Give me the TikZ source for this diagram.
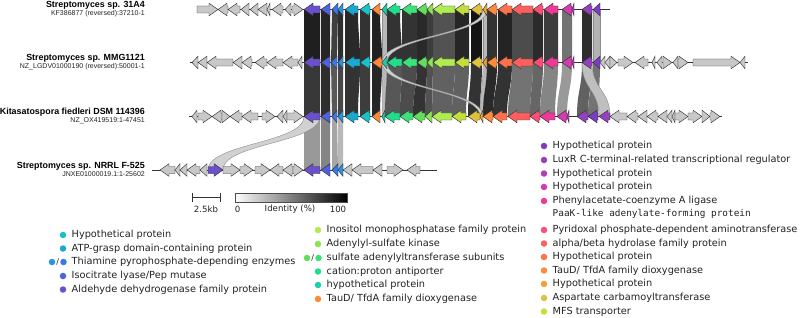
\documentclass[tikz,border=0pt]{standalone}
\usepackage{fontspec}
\setmainfont{DejaVu Sans}
\newfontfamily\ttlfont{Liberation Sans}
\newfontfamily\monofnt{DejaVu Sans Mono}
\definecolor{cA}{HTML}{6B4FCB}
\definecolor{cB}{HTML}{4E62DB}
\definecolor{cC}{HTML}{3C78E4}
\definecolor{cCb}{HTML}{2B93DF}
\definecolor{cD}{HTML}{1BA8D0}
\definecolor{cE}{HTML}{17C3C7}
\definecolor{cF}{HTML}{FF8A3A}
\definecolor{cG}{HTML}{19D0A8}
\definecolor{cH}{HTML}{22DC8C}
\definecolor{cI}{HTML}{3DE07A}
\definecolor{cJ}{HTML}{62DE5C}
\definecolor{cK}{HTML}{8DE452}
\definecolor{cL}{HTML}{AEEC52}
\definecolor{cM}{HTML}{C4DE3E}
\definecolor{cN}{HTML}{DEC23D}
\definecolor{cO}{HTML}{EFA13E}
\definecolor{cP}{HTML}{FF8A3D}
\definecolor{cQ}{HTML}{FF704C}
\definecolor{cR}{HTML}{FF5E5E}
\definecolor{cS}{HTML}{FF4D76}
\definecolor{cT}{HTML}{EC3B97}
\definecolor{cU}{HTML}{D33CB0}
\definecolor{cV}{HTML}{B23DB5}
\definecolor{cW}{HTML}{9440C0}
\definecolor{cX}{HTML}{7B3EC3}
\definecolor{ggray}{HTML}{C8C8C8}
\definecolor{txt}{HTML}{222222}
\tikzset{
  gene/.style={draw=black!80,line width=0.45pt,line join=miter},
  backbone/.style={draw=black!80,line width=0.6pt},
  lbl/.style={anchor=west,inner sep=0pt,text=txt,font=\fontsize{9.75}{11}\selectfont},
  ttl/.style={anchor=east,inner sep=0pt,text=black,font=\ttlfont\bfseries\fontsize{8.9}{10}\selectfont},
  sub/.style={anchor=east,inner sep=0pt,text=txt,font=\ttlfont\fontsize{7}{8}\selectfont},
  small/.style={inner sep=0pt,text=txt,font=\fontsize{8.6}{10}\selectfont},
  ldot/.style={circle,inner sep=0pt,minimum size=6.5pt},
  lightband/.style={draw=black!45,line width=0.4pt}
}
\newcommand\gl[4]{%
  \pgfmathsetmacro\hx{#1+min(9,#2-#1)}%
  \filldraw[gene,fill=#4] (#1,#3) -- (\hx,#3-6.3) -- (\hx,#3-3.5) -- (#2,#3-3.5) -- (#2,#3+3.5) -- (\hx,#3+3.5) -- (\hx,#3+6.3) -- cycle;}
\newcommand\gr[4]{%
  \pgfmathsetmacro\hx{#2-min(9,#2-#1)}%
  \filldraw[gene,fill=#4] (#2,#3) -- (\hx,#3-6.3) -- (\hx,#3-3.5) -- (#1,#3-3.5) -- (#1,#3+3.5) -- (\hx,#3+3.5) -- (\hx,#3+6.3) -- cycle;}
\newcommand\band[7][]{%
  \pgfmathsetmacro\ym{(#4+#7)/2}%
  \path[#1] (#2,#4) .. controls (#2,\ym) and (#5,\ym) .. (#5,#7) -- (#6,#7) .. controls (#6,\ym) and (#3,\ym) .. (#3,#4) -- cycle;}
\begin{document}
\begin{tikzpicture}[x=1pt,y=-1pt]
\useasboundingbox (0,0) rectangle (800,318);
\def\ya{9.5}\def\yb{62.5}\def\yc{116.5}\def\yd{170}
% ---------- bands row1 -> row2
\band[fill=black!88]{304}{320}{\ya}{304}{320}{\yb}
\band[fill=black!85]{321}{330}{\ya}{321}{330}{\yb}
\band[fill=black!75]{332}{338}{\ya}{331}{337}{\yb}
\band[fill=black!82]{338}{343}{\ya}{338}{343}{\yb}
\band[fill=black!84]{345}{358}{\ya}{345}{360}{\yb}
\band[fill=black!80]{360}{370}{\ya}{360}{370}{\yb}
\band[fill=black!87]{372}{380}{\ya}{372}{382}{\yb}
\band[fill=black!28,lightband]{382}{387}{\ya}{382}{387}{\yb}
\band[fill=black!80]{387}{400}{\ya}{387}{402}{\yb}
\band[fill=black!80]{402}{417}{\ya}{402}{417}{\yb}
\band[fill=black!84]{417}{427}{\ya}{417}{427}{\yb}
\band[fill=black!76]{427}{433}{\ya}{427}{433}{\yb}
\band[fill=black!68]{433}{455}{\ya}{433}{455}{\yb}
\band[fill=black!85]{455}{469}{\ya}{455}{469}{\yb}
\band[fill=black!92]{471}{482}{\ya}{471}{482}{\yb}
\band[fill=black!28,lightband]{483}{487}{\ya}{483}{487}{\yb}
\band[fill=black!80]{487}{497}{\ya}{487}{497}{\yb}
\band[fill=black!86]{498}{512}{\ya}{498}{512}{\yb}
\band[fill=black!70]{512}{533}{\ya}{512}{533}{\yb}
\band[fill=black!83]{533}{543}{\ya}{533}{543}{\yb}
\band[fill=black!76]{544}{558}{\ya}{544}{558}{\yb}
\band[fill=black!55]{562}{572}{\ya}{562}{572}{\yb}
\band[fill=black!82]{582}{592}{\ya}{582}{592}{\yb}
\band[fill=black!30,lightband]{593}{600}{\ya}{593}{600}{\yb}
\band[fill=black!18,lightband]{483}{487}{\ya}{382}{387}{\yb}
% ---------- bands row2 -> row3
\band[fill=black!78]{304}{320}{\yb}{304}{320}{\yc}
\band[fill=black!82]{321}{330}{\yb}{321}{330}{\yc}
\band[fill=black!65]{331}{337}{\yb}{332}{337}{\yc}
\band[fill=black!72]{338}{343}{\yb}{338}{343}{\yc}
\band[fill=black!80]{345}{360}{\yb}{345}{358}{\yc}
\band[fill=black!76]{360}{370}{\yb}{360}{370}{\yc}
\band[fill=black!85]{372}{382}{\yb}{372}{380}{\yc}
\band[fill=black!28,lightband]{382}{387}{\yb}{382}{385}{\yc}
\band[fill=black!66]{387}{402}{\yb}{385}{400}{\yc}
\band[fill=black!70]{402}{417}{\yb}{400}{413}{\yc}
\band[fill=black!80]{417}{427}{\yb}{413}{425}{\yc}
\band[fill=black!68]{427}{433}{\yb}{425}{432}{\yc}
\band[fill=black!62]{433}{455}{\yb}{432}{452}{\yc}
\band[fill=black!62]{455}{469}{\yb}{452}{466}{\yc}
\band[fill=black!80]{471}{482}{\yb}{468}{480}{\yc}
\band[fill=black!28,lightband]{483}{487}{\yb}{480}{483}{\yc}
\band[fill=black!84]{487}{497}{\yb}{483}{493}{\yc}
\band[fill=black!80]{498}{512}{\yb}{493}{507}{\yc}
\band[fill=black!55]{512}{533}{\yb}{508}{530}{\yc}
\band[fill=black!60]{533}{543}{\yb}{530}{540}{\yc}
\band[fill=black!48]{544}{558}{\yb}{540}{555}{\yc}
\band[fill=black!40]{562}{572}{\yb}{557}{567}{\yc}
\band[fill=black!62]{582}{592}{\yb}{577}{588}{\yc}
\band[fill=black!55]{593}{600}{\yb}{588}{598}{\yc}
\band[fill=black!25,lightband]{582}{592}{\yb}{599}{610}{\yc}
\band[fill=black!18,lightband]{382}{387}{\yb}{480}{483}{\yc}
% ---------- bands row3 -> row4
\band[fill=black!40]{304}{320}{\yc}{304}{320}{\yd}
\band[fill=black!48]{321}{330}{\yc}{321}{330}{\yd}
\band[fill=black!35]{332}{337}{\yc}{332}{338}{\yd}
\band[fill=black!28]{338}{343}{\yc}{338}{343}{\yd}
\band[fill=black!18,lightband]{304}{320}{\yc}{208}{223}{\yd}
% ---------- backbones
\draw[backbone] (197,\ya) -- (610,\ya);
\draw[backbone] (190,\yb) -- (748,\yb);
\draw[backbone] (189,\yc) -- (722,\yc);
\draw[backbone] (152,\yd) -- (437,\yd);
% ---------- row 1
\gr{197}{218}{\ya}{ggray}\gl{218}{228}{\ya}{ggray}\gl{228}{240}{\ya}{ggray}\gl{241}{249}{\ya}{ggray}
\gl{250}{258}{\ya}{ggray}\gl{258}{267}{\ya}{ggray}\gl{267}{270}{\ya}{ggray}\gl{272}{283}{\ya}{ggray}
\gl{285}{291}{\ya}{ggray}\gr{292}{303}{\ya}{ggray}
\gl{304}{320}{\ya}{cA}\gl{321}{330}{\ya}{cB}\gl{332}{338}{\ya}{cC}\gl{338}{343}{\ya}{cCb}
\gl{345}{358}{\ya}{cD}\gl{360}{370}{\ya}{cE}\gl{372}{380}{\ya}{cF}\gl{382}{387}{\ya}{cG}
\gl{387}{400}{\ya}{cH}\gl{402}{417}{\ya}{cI}\gl{417}{427}{\ya}{cJ}\gl{427}{433}{\ya}{cK}
\gl{433}{455}{\ya}{cL}\gl{455}{469}{\ya}{cM}\gl{471}{482}{\ya}{cN}\gl{483}{487}{\ya}{cO}
\gl{487}{497}{\ya}{cP}\gl{498}{512}{\ya}{cQ}\gl{512}{533}{\ya}{cR}\gl{533}{543}{\ya}{cS}
\gl{544}{558}{\ya}{cT}\gl{562}{572}{\ya}{cU}\gl{572}{574}{\ya}{cV}\gl{582}{592}{\ya}{cW}\gl{593}{600}{\ya}{cX}
% ---------- row 2
\gl{192}{198}{\yb}{ggray}\gl{198}{207}{\yb}{ggray}\gl{207}{233}{\yb}{ggray}\gl{233}{242}{\yb}{ggray}
\gl{242}{252}{\yb}{ggray}\gl{255}{267}{\yb}{ggray}\gl{267}{283}{\yb}{ggray}\gl{283}{298}{\yb}{ggray}\gl{298}{302}{\yb}{ggray}
\gl{304}{320}{\yb}{cA}\gl{321}{330}{\yb}{cB}\gl{331}{337}{\yb}{cC}\gl{338}{343}{\yb}{cCb}
\gl{345}{360}{\yb}{cD}\gl{360}{370}{\yb}{cE}\gl{372}{382}{\yb}{cF}\gl{382}{387}{\yb}{cG}
\gl{387}{402}{\yb}{cH}\gl{402}{417}{\yb}{cI}\gl{417}{427}{\yb}{cJ}\gl{427}{433}{\yb}{cK}
\gl{433}{455}{\yb}{cL}\gl{455}{469}{\yb}{cM}\gl{471}{482}{\yb}{cN}\gl{483}{487}{\yb}{cO}
\gl{487}{497}{\yb}{cP}\gl{498}{512}{\yb}{cQ}\gl{512}{533}{\yb}{cR}\gl{533}{543}{\yb}{cS}
\gl{544}{558}{\yb}{cT}\gl{562}{572}{\yb}{cU}\gl{572}{574}{\yb}{cV}\gl{582}{592}{\yb}{cW}\gl{593}{600}{\yb}{cX}
\gl{600}{605}{\yb}{ggray}\gl{605}{610}{\yb}{ggray}\gr{610}{617}{\yb}{ggray}\gr{618}{633}{\yb}{ggray}
\gl{635}{648}{\yb}{ggray}\gl{652}{655}{\yb}{ggray}\gl{657}{662}{\yb}{ggray}\gr{663}{672}{\yb}{ggray}
\gl{673}{678}{\yb}{ggray}\gr{678}{688}{\yb}{ggray}\gr{693}{740}{\yb}{ggray}\gl{740}{745}{\yb}{ggray}
% ---------- row 3
\gl{192}{197}{\yc}{ggray}\gr{198}{212}{\yc}{ggray}\gl{212}{222}{\yc}{ggray}\gr{222}{230}{\yc}{ggray}
\gl{230}{242}{\yc}{ggray}\gl{242}{258}{\yc}{ggray}\gr{262}{275}{\yc}{ggray}\gl{277}{283}{\yc}{ggray}
\gl{283}{287}{\yc}{ggray}\gr{287}{303}{\yc}{ggray}
\gl{304}{320}{\yc}{cA}\gl{321}{330}{\yc}{cB}\gl{332}{337}{\yc}{cC}\gl{338}{343}{\yc}{cCb}
\gl{345}{358}{\yc}{cD}\gl{360}{370}{\yc}{cE}\gl{372}{380}{\yc}{cF}\gl{382}{385}{\yc}{cG}
\gl{385}{400}{\yc}{cH}\gl{400}{413}{\yc}{cI}\gl{413}{425}{\yc}{cJ}\gl{425}{432}{\yc}{cK}
\gl{432}{452}{\yc}{cL}\gl{452}{466}{\yc}{cM}\gl{468}{480}{\yc}{cN}\gl{480}{483}{\yc}{cO}
\gl{483}{493}{\yc}{cP}\gl{493}{507}{\yc}{cQ}\gl{508}{530}{\yc}{cR}\gl{530}{540}{\yc}{cS}
\gl{540}{555}{\yc}{cT}\gl{557}{567}{\yc}{cU}\gl{567}{569}{\yc}{cV}\gl{577}{588}{\yc}{cW}
\gl{588}{598}{\yc}{cX}\gl{599}{610}{\yc}{cW}
\gl{610}{627}{\yc}{ggray}\gl{627}{638}{\yc}{ggray}\gl{638}{647}{\yc}{ggray}\gl{647}{658}{\yc}{ggray}
\gl{658}{667}{\yc}{ggray}\gl{667}{672}{\yc}{ggray}\gl{672}{675}{\yc}{ggray}\gr{675}{688}{\yc}{ggray}
\gr{688}{702}{\yc}{ggray}\gr{702}{710}{\yc}{ggray}\gr{710}{720}{\yc}{ggray}
% ---------- row 4
\gl{160}{175}{\yd}{ggray}\gl{175}{180}{\yd}{ggray}\gl{180}{187}{\yd}{ggray}\gl{187}{200}{\yd}{ggray}
\gl{200}{207}{\yd}{ggray}\gr{208}{223}{\yd}{cA}\gr{223}{240}{\yd}{ggray}\gr{240}{253}{\yd}{ggray}
\gr{255}{270}{\yd}{ggray}\gl{270}{283}{\yd}{ggray}\gl{283}{293}{\yd}{ggray}\gr{293}{303}{\yd}{ggray}
\gl{304}{320}{\yd}{cA}\gl{321}{330}{\yd}{cB}\gl{332}{338}{\yd}{cC}\gl{338}{343}{\yd}{cCb}
\gl{343}{352}{\yd}{ggray}\gl{352}{373}{\yd}{ggray}\gl{373}{382}{\yd}{ggray}\gr{387}{403}{\yd}{ggray}\gl{407}{420}{\yd}{ggray}
% ---------- titles
\node[ttl] (t1) at (145,5) {Streptomyces sp. 31A4};
\node[sub] (s1) at (145,13.5) {KF386877 (reversed):37210-1};
\node[ttl] (t2) at (145,58) {Streptomyces sp. MMG1121};
\node[sub] (s2) at (145,66.5) {NZ\_LGDV01000190 (reversed):50001-1};
\node[ttl] (t3) at (145,112) {Kitasatospora fiedleri DSM 114396};
\node[sub] (s3) at (145,120.5) {NZ\_OX419519:1-47451};
\node[ttl] (t4) at (145,166) {Streptomyces sp. NRRL F-525};
\node[sub] (s4) at (145,174.5) {JNXE01000019.1:1-25602};
% ---------- scale bar and identity bar
\draw[line width=0.7pt,black!80] (192,193) -- (192,202) (192,197.5) -- (220,197.5) (220,193) -- (220,202);
\node[small] (kb) at (206,209.5) {2.5kb};
\shade[left color=white,right color=black] (235,193) rectangle (347,202.5);
\draw[line width=0.4pt,black!70] (235,193) rectangle (347,202.5);
\node[small] (i0) at (237.5,209.5) {0};
\node[small] (il) at (290,209.5) {Identity (\%)};
\node[small] (i1) at (338,209.5) {100};
% ---------- legend column 1
\node[ldot,fill=cE] (d11) at (63,235) {}; \node[lbl] (l11) at (71.5,235) {Hypothetical protein};
\node[ldot,fill=cD] (d12) at (63,248.5) {}; \node[lbl] (l12) at (71.5,248.5) {ATP-grasp domain-containing protein};
\node[ldot,fill=cCb] (d13a) at (52,262) {}; \node[inner sep=0pt,text=txt,font=\fontsize{8}{9}\selectfont] (sl1) at (57.7,262) {/};
\node[ldot,fill=cC] (d13) at (63.5,262) {}; \node[lbl] (l13) at (71.5,262) {Thiamine pyrophosphate-depending enzymes};
\node[ldot,fill=cB] (d14) at (63,276) {}; \node[lbl] (l14) at (71.5,276) {Isocitrate lyase/Pep mutase};
\node[ldot,fill=cA] (d15) at (63,289.5) {}; \node[lbl] (l15) at (71.5,289.5) {Aldehyde dehydrogenase family protein};
% ---------- legend column 2
\node[ldot,fill=cL] (d21) at (318,230) {}; \node[lbl] (l21) at (326.5,230) {Inositol monophosphatase family protein};
\node[ldot,fill=cK] (d22) at (318,244) {}; \node[lbl] (l22) at (326.5,244) {Adenylyl-sulfate kinase};
\node[ldot,fill=cJ] (d23a) at (307,258) {}; \node[inner sep=0pt,text=txt,font=\fontsize{8}{9}\selectfont] (sl2) at (312.7,258) {/};
\node[ldot,fill=cI] (d23) at (318.5,258) {}; \node[lbl] (l23) at (326.5,258) {sulfate adenylyltransferase subunits};
\node[ldot,fill=cH] (d24) at (318,271.5) {}; \node[lbl] (l24) at (326.5,271.5) {cation:proton antiporter};
\node[ldot,fill=cG] (d25) at (318,285) {}; \node[lbl] (l25) at (326.5,285) {hypothetical protein};
\node[ldot,fill=cF] (d26) at (318,299) {}; \node[lbl] (l26) at (326.5,299) {TauD/ TfdA family dioxygenase};
% ---------- legend column 3
\node[ldot,fill=cX] (d31) at (544,146) {}; \node[lbl] (l31) at (552.5,146) {Hypothetical protein};
\node[ldot,fill=cW] (d32) at (544,160) {}; \node[lbl] (l32) at (552.5,160) {LuxR C-terminal-related transcriptional regulator};
\node[ldot,fill=cV] (d33) at (544,173.5) {}; \node[lbl] (l33) at (552.5,173.5) {Hypothetical protein};
\node[ldot,fill=cU] (d34) at (544,187) {}; \node[lbl] (l34) at (552.5,187) {Hypothetical protein};
\node[ldot,fill=cT] (d35) at (544,201) {}; \node[lbl] (l35) at (552.5,201) {Phenylacetate-coenzyme A ligase};
\node[lbl,font=\monofnt\fontsize{9.4}{11}\selectfont] (l35b) at (552.5,214) {PaaK-like adenylate-forming protein};
\node[ldot,fill=cS] (d36) at (544,230) {}; \node[lbl] (l36) at (552.5,230) {Pyridoxal phosphate-dependent aminotransferase};
\node[ldot,fill=cR] (d37) at (544,243.5) {}; \node[lbl] (l37) at (552.5,243.5) {alpha/beta hydrolase family protein};
\node[ldot,fill=cQ] (d38) at (544,257) {}; \node[lbl] (l38) at (552.5,257) {Hypothetical protein};
\node[ldot,fill=cP] (d39) at (544,270.5) {}; \node[lbl] (l39) at (552.5,270.5) {TauD/ TfdA family dioxygenase};
\node[ldot,fill=cO] (d3a) at (544,284) {}; \node[lbl] (l3a) at (552.5,284) {Hypothetical protein};
\node[ldot,fill=cN] (d3b) at (544,298) {}; \node[lbl] (l3b) at (552.5,298) {Aspartate carbamoyltransferase};
\node[ldot,fill=cM] (d3c) at (544,311.5) {}; \node[lbl] (l3c) at (552.5,311.5) {MFS transporter};
\end{tikzpicture}
\end{document}
